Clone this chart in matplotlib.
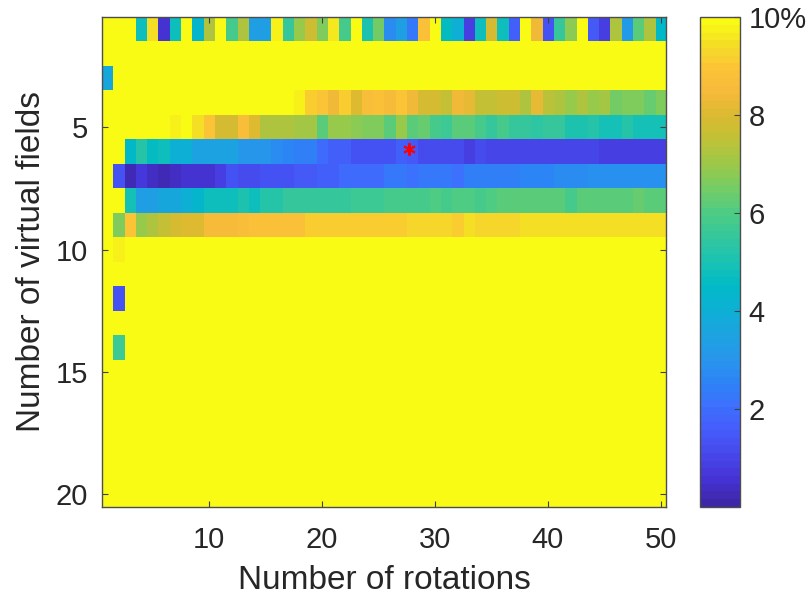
import numpy as np
import matplotlib
matplotlib.use("Agg")
import matplotlib.pyplot as plt
from matplotlib.colors import LinearSegmentedColormap

plt.rcParams['font.family'] = ['Liberation Sans', 'DejaVu Sans']

# error (%) per number of rotations (columns) and number of virtual fields (rows)
n_rot = 50
n_vf = 20
S = 10.0  # saturated cells (>= 10 %)

row1 = [S, S, S, 4.8, 9.5, 0.5, 4.8, S, 4.3, 7.2,
        S, 5.9, 7.3, 3.4, 3.4, 9.7, 5.6, 7.0, 7.8, 6.7,
        9.6, 5.9, S, 5.0, 6.5, 2.8, 3.3, 2.2, 8.9, S,
        4.6, 4.0, 0.8, 4.8, 7.9, 4.7, 1.7, S, 8.3, 1.3,
        5.6, 6.8, S, 1.5, 0.9, 7.3, 3.2, 6.1, 7.3, 4.4]
row4 = [S] * 17 + [9.7, 9.2, 9.0, 8.4, 9.2, 8.0, 8.7, 8.9, 8.5, 9.0,
                   8.4, 7.9, 7.9, 7.5, 8.3, 8.2, 7.5, 7.6, 7.8, 7.8,
                   7.2, 8.2, 7.4, 7.2, 7.0, 7.2, 6.9, 7.1, 6.5, 6.7,
                   6.6, 6.3, 6.6]
row5 = [S] * 6 + [9.7, 9.9, 9.4, 9.0, 7.9, 7.9, 8.7, 8.0, 7.2, 7.2,
                  7.2, 7.1, 7.1, 6.2, 6.9, 7.0, 6.8, 6.6, 6.6, 6.2,
                  6.9, 6.1, 6.4, 5.9, 5.7, 6.2, 6.2, 5.8, 5.5, 5.9,
                  5.6, 5.6, 5.4, 5.5, 5.5, 5.0, 5.0, 5.3, 4.9, 4.9,
                  5.2, 4.9, 4.9, 4.9]
row6 = [S, S, 4.4, 5.3, 4.6, 4.8, 4.0, 4.0, 3.5, 3.5,
        3.5, 3.5, 3.1, 3.0, 3.0, 2.8, 2.6, 2.4, 2.4, 2.0,
        1.6, 1.7, 1.3, 1.3, 1.3, 1.4, 1.6, 1.5, 1.1, 1.1,
        1.1, 1.1, 0.9, 1.1, 1.0, 1.0, 1.0, 1.0, 1.0, 0.95,
        0.95, 0.95, 0.95, 1.0, 0.9, 0.9, 0.9, 0.9, 0.9, 0.9]
row7 = [S, 1.3, 0.2, 0.7, 0.35, 0.25, 0.35, 0.6, 0.55, 0.55,
        0.85, 1.3, 1.1, 1.1, 1.25, 1.25, 1.25, 1.5, 1.5, 1.7,
        1.7, 1.9, 1.9, 1.9, 1.9, 2.2, 2.2, 2.1, 2.3, 2.3,
        2.3, 2.1, 2.4, 2.4, 2.4, 2.4, 2.4, 2.6, 2.6, 2.6,
        2.8, 2.8, 2.8, 2.9, 2.9, 2.9, 2.9, 2.9, 2.9, 2.9]
row8 = [S, S, 4.9, 3.3, 3.4, 3.7, 3.7, 4.0, 4.3, 4.7,
        4.7, 4.7, 5.1, 4.8, 5.3, 5.2, 5.5, 5.5, 5.6, 5.6,
        5.6, 5.6, 5.7, 5.7, 5.7, 5.8, 5.8, 5.8, 5.8, 6.0,
        5.9, 6.0, 6.0, 5.9, 6.0, 6.1, 6.1, 6.1, 6.1, 6.1,
        6.1, 5.9, 6.1, 6.1, 6.1, 6.1, 6.1, 6.3, 6.1, 6.1]
row9 = [S, 6.6, 9.0, 7.0, 7.2, 7.6, 7.9, 8.0, 8.0, 8.5,
        8.5, 8.5, 8.6, 8.8, 8.8, 8.9, 8.9, 8.8, 9.2, 9.2,
        9.2, 9.2, 9.2, 9.2, 9.2, 9.2, 9.2, 9.3, 9.3, 9.3,
        9.3, 9.1, 9.4, 9.3, 9.3, 9.3, 9.3, 9.5, 9.5, 9.5,
        9.5, 9.5, 9.5, 9.5, 9.5, 9.5, 9.5, 9.5, 9.5, 9.5]
# sparse rows: {rotation: error}
row3 = {1: 3.6}
row10 = {2: 9.8, 4: 9.9}
row12 = {2: 1.3}
row14 = {2: 5.7}

best_rot, best_vf = 27.7, 5.9

err = np.full((n_vf, n_rot), S)
for r, vals in [(1, row1), (4, row4), (5, row5), (6, row6),
                (7, row7), (8, row8), (9, row9)]:
    err[r - 1, :] = vals
for r, d in [(3, row3), (10, row10), (12, row12), (14, row14)]:
    for c, v in d.items():
        err[r - 1, c - 1] = v

# parula-like colormap
parula_pts = [
    (0.00, '#3e26a8'), (0.05, '#4533d4'), (0.10, '#4747eb'), (0.15, '#455cfa'),
    (0.20, '#3e6ffe'), (0.25, '#2d84f6'), (0.30, '#2796eb'), (0.35, '#1ca3e0'),
    (0.40, '#0db0d4'), (0.45, '#00bac7'), (0.50, '#1ac2b3'), (0.55, '#33c79e'),
    (0.60, '#4ccc85'), (0.65, '#73cc66'), (0.70, '#99c94a'), (0.75, '#bdc238'),
    (0.80, '#d9ba30'), (0.85, '#f5ba3a'), (0.90, '#fcc238'), (0.95, '#f5de26'),
    (1.00, '#f9fb14')]
parula = LinearSegmentedColormap.from_list('parula', parula_pts, N=64)

txt = '#262626'
fig = plt.figure(figsize=(8.09, 6.03), dpi=100)
ax = fig.add_axes([0.1257, 0.160, 0.6981, 0.8113])
im = ax.imshow(err, cmap=parula, vmin=0, vmax=10, aspect='auto',
               interpolation='nearest', extent=(0.5, n_rot + 0.5, n_vf + 0.5, 0.5))
ax.plot(best_rot, best_vf, linestyle='none', marker=(6, 2, 0), color='red',
        markersize=9, markeredgewidth=1.4)

ax.set_xticks([10, 20, 30, 40, 50])
ax.set_yticks([5, 10, 15, 20])
ax.tick_params(direction='in', top=True, right=True, length=4, width=0.8,
               colors='#404040', labelcolor=txt, labelsize=21)
ax.tick_params(axis='x', pad=14)
ax.tick_params(axis='y', pad=10)
for s in ax.spines.values():
    s.set_color('#4d4d4d')
    s.set_linewidth(1.0)
ax.set_xlabel('Number of rotations', fontsize=24, color=txt, labelpad=8)
ax.set_ylabel('Number of virtual fields', fontsize=24, color=txt, labelpad=6)

cax = fig.add_axes([0.8653, 0.160, 0.0494, 0.8113])
cb = fig.colorbar(im, cax=cax)
cb.set_ticks([2, 4, 6, 8, 10])
cb.set_ticklabels(['2', '4', '6', '8', '10%'])
cax.tick_params(direction='in', length=4, width=0.8, colors='#404040',
                labelcolor=txt, labelsize=21, pad=6)
cb.outline.set_edgecolor('#4d4d4d')
cb.outline.set_linewidth(1.0)

fig.savefig('out.png', dpi=100)
